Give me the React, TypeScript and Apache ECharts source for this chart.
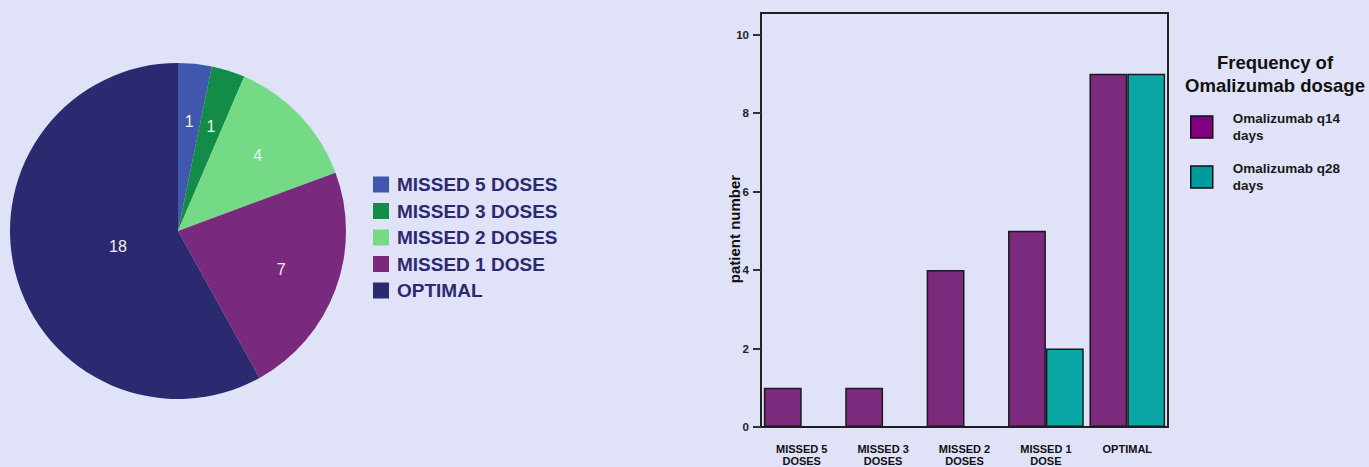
import React, { useEffect, useRef } from "react";
import * as echarts from "echarts";

const pieNames = ["MISSED 5 DOSES", "MISSED 3 DOSES", "MISSED 2 DOSES", "MISSED 1 DOSE", "OPTIMAL"];
const pieValues = [1, 1, 4, 7, 18];
const pieColors = ["#3f58ad", "#128c46", "#74da86", "#7a2a7c", "#2b2a70"];

const barCategories = ["MISSED 5\nDOSES", "MISSED 3\nDOSES", "MISSED 2\nDOSES", "MISSED 1\nDOSE", "OPTIMAL"];
const q14Name = "Omalizumab q14\ndays";
const q28Name = "Omalizumab q28\ndays";
const q14Values = [1, 1, 4, 5, 9];
const q28Values = [0, 0, 0, 2, 9];
const yTicks = [0, 2, 4, 6, 8, 10];

const BG = "#e0e2f8";
const FONT = "Liberation Sans, Arial, sans-serif";

export default function App() {
  const ref = useRef<HTMLDivElement>(null);
  useEffect(() => {
    if (!ref.current) return;
    const chart = echarts.init(ref.current, null, { renderer: "svg" });
    const pieData = pieNames.map((n, i) => ({ name: n, value: pieValues[i], itemStyle: { color: pieColors[i] } }));
    const labelStyle = { color: "#f0f0f0", fontSize: 16, fontFamily: FONT, formatter: "{c}", position: "inside" };
    const labelPie = (radius: number[], showIdx: (i: number) => boolean, z: number) => ({
      type: "pie",
      center: [178, 231],
      radius,
      startAngle: 90,
      clockwise: true,
      silent: true,
      legendHoverLink: false,
      data: pieData.map((d, i) => ({
        name: d.name + " ".repeat(z),
        value: d.value,
        itemStyle: { color: "transparent" },
        label: { show: showIdx(i) },
      })),
      label: { show: true, ...labelStyle },
      labelLine: { show: false },
      z,
    });
    chart.setOption({
      animation: false,
      backgroundColor: BG,
      legend: [
        {
          orient: "vertical",
          left: 373,
          top: 175,
          padding: 0,
          itemWidth: 16,
          itemHeight: 16,
          itemGap: 7.5,
          icon: "rect",
          selectedMode: false,
          data: pieNames,
          textStyle: { color: "#2b2a70", fontSize: 19, fontWeight: "bold", fontFamily: FONT, padding: [0, 0, 0, 3] },
        },
        {
          orient: "vertical",
          left: 1190,
          top: 110,
          padding: 0,
          itemWidth: 22,
          itemHeight: 22,
          itemGap: 16,
          icon: "rect",
          selectedMode: false,
          data: [
            { name: q14Name, itemStyle: { color: "#800080", borderColor: "#111", borderWidth: 1.5 } },
            { name: q28Name, itemStyle: { color: "#009a9a", borderColor: "#111", borderWidth: 1.5 } },
          ],
          textStyle: { color: "#1a1a1a", fontSize: 13.5, fontWeight: "bold", lineHeight: 17, fontFamily: FONT, padding: [0, 0, 0, 15] },
        },
      ],
      graphic: [
        {
          type: "text",
          x: 1275,
          y: 51,
          style: {
            text: "Frequency of\nOmalizumab dosage",
            textAlign: "center",
            fill: "#111",
            font: "bold 18.5px 'Liberation Sans', Arial, sans-serif",
            lineHeight: 23,
          },
        },
      ],
      grid: {
        left: 761,
        right: 201,
        top: 13,
        bottom: 39,
        show: true,
        borderColor: "#222",
        borderWidth: 2,
        backgroundColor: "transparent",
      },
      xAxis: {
        type: "category",
        data: barCategories,
        axisLine: { lineStyle: { color: "#222", width: 2 } },
        axisTick: { alignWithLabel: true, length: 6, lineStyle: { color: "#333", width: 2 } },
        axisLabel: { color: "#111", fontSize: 11, fontWeight: "bold", lineHeight: 12, margin: 16, fontFamily: FONT, interval: 0 },
      },
      yAxis: {
        type: "value",
        min: 0,
        max: 10.55,
        interval: 2,
        name: "patient number",
        nameLocation: "middle",
        nameGap: 19,
        nameMoveOverlap: false,
        nameTextStyle: { color: "#111", fontSize: 15, fontWeight: "bold", fontFamily: FONT, padding: [0, 18, 0, 0] },
        splitLine: { show: false },
        axisLine: { show: true, lineStyle: { color: "#222", width: 2 } },
        axisTick: { show: true, length: 8, customValues: yTicks, lineStyle: { color: "#333", width: 2 } },
        axisLabel: { customValues: yTicks, color: "#222", fontSize: 11.5, fontWeight: "bold", margin: 12, fontFamily: FONT },
      },
      series: [
        {
          type: "pie",
          center: [178, 231],
          radius: [0, 168],
          startAngle: 90,
          clockwise: true,
          silent: true,
          data: pieData,
          label: { show: false },
          labelLine: { show: false },
          z: 1,
        },
        labelPie([46, 168], (i) => i < 4, 2),
        labelPie([0, 118], (i) => i === 4, 3),
        {
          type: "bar",
          name: q14Name,
          data: q14Values,
          barGap: "0%",
          barCategoryGap: "7%",
          itemStyle: { color: "#7b2a7e", borderColor: "#1a1a1a", borderWidth: 1.5 },
        },
        {
          type: "bar",
          name: q28Name,
          data: q28Values,
          itemStyle: { color: "#0aa6a6", borderColor: "#1a1a1a", borderWidth: 1.5 },
        },
      ],
    });
    return () => chart.dispose();
  }, []);
  return <div ref={ref} style={{ position: "absolute", left: 0, top: 0, width: 1369, height: 467 }} />;
}
